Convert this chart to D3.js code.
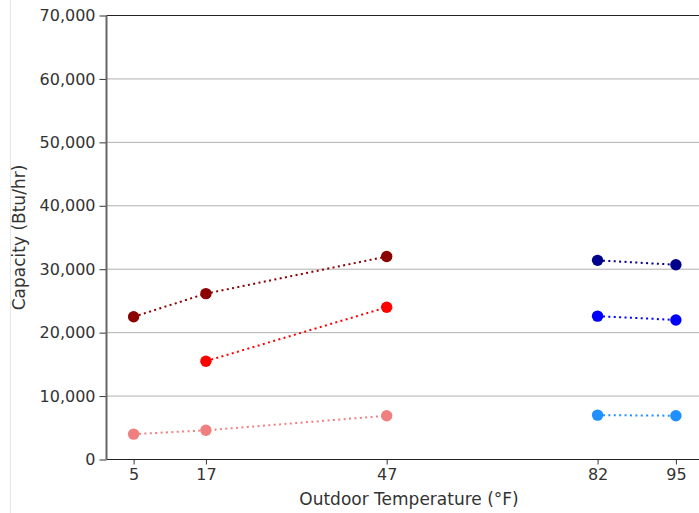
<!DOCTYPE html>
<html>
<head>
<meta charset="utf-8">
<script src="https://cdn.jsdelivr.net/npm/d3@7"></script>
<style>
  body { margin: 0; background: #fff; }
  svg { display: block; font-family: "DejaVu Sans", sans-serif; }
</style>
</head>
<body>
<svg width="699" height="513"></svg>
<script>
// heating side (left) and cooling side (right)
const heatTemps = [5, 17, 47],
      coolTemps = [82, 95]
const heatHigh = [22500, 26150, 32000],
      heatMid  = [null, 15500, 24000],
      heatLow  = [4000, 4600, 6900]
const coolHigh = [31400, 30700],
      coolMid  = [22600, 22000],
      coolLow  = [7000, 6900]
const xTicks = [5, 17, 47, 82, 95],
      yTicks = [0, 10000, 20000, 30000, 40000, 50000, 60000, 70000]

const series = [
  {temps: heatTemps, vals: heatHigh, color: '#8b0000'},
  {temps: heatTemps, vals: heatMid,  color: '#ff0000'},
  {temps: heatTemps, vals: heatLow,  color: '#f08080'},
  {temps: coolTemps, vals: coolHigh, color: '#00008b'},
  {temps: coolTemps, vals: coolMid,  color: '#0000ff'},
  {temps: coolTemps, vals: coolLow,  color: '#1e90ff'}
]

const svg = d3.select("svg"),
      mLeft = 106.5, mRight = 703, mTop = 15.5, mBottom = 459.5

const x = d3.scaleLinear().domain([0.5, 99.5]).range([mLeft, mRight]),
      y = d3.scaleLinear().domain([0, 70000]).range([mBottom, mTop]),
      fmt = d3.format(",")

// faint page border on the left
svg.append("line")
  .attr("x1", 10.5).attr("x2", 10.5).attr("y1", 0).attr("y2", 513)
  .style("stroke", "#e6e6e6")

// gridlines
svg.append("g").selectAll("line")
    .data(yTicks.slice(1, -1))
  .enter().append("line")
    .attr("x1", mLeft).attr("x2", mRight)
    .attr("y1", d => y(d)).attr("y2", d => y(d))
    .style("stroke", "#b0b0b0")
    .style("stroke-width", 1)

// axes
const yAxis = svg.append("g")
  .attr("transform", `translate(${mLeft},0)`)
  .call(d3.axisLeft(y).tickValues(yTicks).tickFormat(fmt).tickSize(7).tickPadding(4))
const xAxis = svg.append("g")
  .attr("transform", `translate(0,${mBottom})`)
  .call(d3.axisBottom(x).tickValues(xTicks).tickSize(5).tickPadding(4))

for (const g of [yAxis, xAxis]) {
  g.select(".domain").remove()
  g.selectAll("text").style("font-size", "16px").style("fill", "#333")
    .style("font-family", '"DejaVu Sans", sans-serif')
  g.selectAll("line").style("stroke", "#333")
}

// spines
svg.append("line")
  .attr("x1", mLeft).attr("x2", mRight).attr("y1", mTop).attr("y2", mTop)
  .style("stroke", "#222").style("stroke-width", 1.2)
svg.append("line")
  .attr("x1", mLeft).attr("x2", mRight).attr("y1", mBottom).attr("y2", mBottom)
  .style("stroke", "#222").style("stroke-width", 1.2)
svg.append("line")
  .attr("x1", mLeft).attr("x2", mLeft).attr("y1", mTop).attr("y2", mBottom)
  .style("stroke", "#666").style("stroke-width", 2)

// series
const line = d3.line()
  .defined(d => d[1] != null)
  .x(d => x(d[0])).y(d => y(d[1]))

series.forEach(function(s) {
  const pts = s.temps.map((t, i) => [t, s.vals[i]])
  svg.append("path")
    .datum(pts)
    .attr("d", line)
    .style("fill", "none")
    .style("stroke", s.color)
    .style("stroke-width", 2)
    .style("stroke-dasharray", "2,3.4")
  svg.selectAll(null)
      .data(pts.filter(d => d[1] != null))
    .enter().append("circle")
      .attr("cx", d => x(d[0]))
      .attr("cy", d => y(d[1]))
      .attr("r", 5.7)
      .style("fill", s.color)
})

// axis labels
svg.append("text")
  .attr("x", 409).attr("y", 505)
  .style("text-anchor", "middle")
  .style("font-size", "17px")
  .style("fill", "#333")
  .text("Outdoor Temperature (°F)")
svg.append("text")
  .attr("transform", `translate(25,${(mTop + mBottom) / 2}) rotate(-90)`)
  .style("text-anchor", "middle")
  .style("font-size", "17px")
  .style("fill", "#333")
  .text("Capacity (Btu/hr)")
</script>
</body>
</html>
